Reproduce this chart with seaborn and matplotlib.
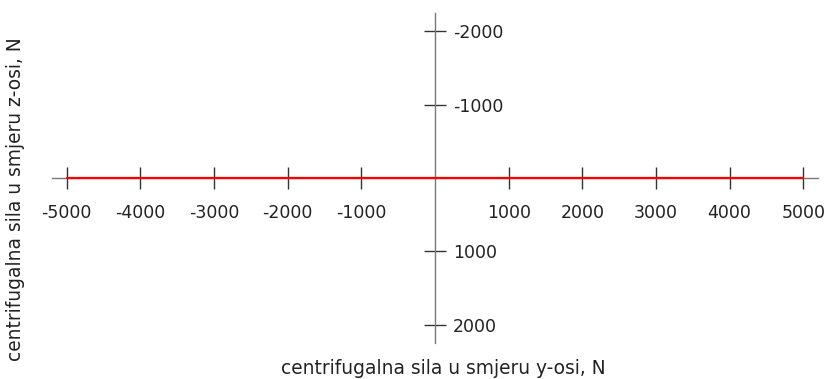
import matplotlib
matplotlib.use("Agg")
import matplotlib.pyplot as plt
import seaborn as sns
import pandas as pd

# data
line_x = [-5000, 5000]
line_y = [0, 0]
x_ticks = [-5000, -4000, -3000, -2000, -1000, 1000, 2000, 3000, 4000, 5000]
y_ticks = [-2000, -1000, 1000, 2000]
x_label = "centrifugalna sila u smjeru y-osi, N"
y_label = "centrifugalna sila u smjeru z-osi, N"

sns.set_style("white")
plt.rcParams['font.family'] = ['DejaVu Sans']

fig = plt.figure(figsize=(8.26, 3.79), dpi=100)
ax = fig.add_axes([52/826, 36/379, 766/826, 330/379])

df = pd.DataFrame({"x": line_x, "y": line_y})
sns.lineplot(data=df, x="x", y="y", ax=ax, color="#ff0000", linewidth=1.6, zorder=3)

ax.set_xlim(-5200, 5200)
ax.set_ylim(2250, -2250)

for s in ["top", "left"]:
    ax.spines[s].set_visible(False)
ax.spines["bottom"].set_position(("data", 0))
ax.spines["right"].set_position(("data", 0))
for s in ["bottom", "right"]:
    ax.spines[s].set_color("#777777")
    ax.spines[s].set_linewidth(1.0)
ax.yaxis.set_ticks_position("right")
ax.xaxis.set_ticks_position("bottom")

ax.set_xticks(x_ticks)
ax.set_xticklabels([str(v) for v in x_ticks])
ax.set_yticks(y_ticks)
ax.set_yticklabels([str(v) for v in y_ticks])
ax.tick_params(axis="both", direction="inout", length=15.8, width=1.0, color="#333333",
               labelsize=12.5, labelcolor="#222222")
ax.tick_params(axis="x", pad=10.5)
ax.tick_params(axis="y", pad=5)
ax.set_xlabel("")
ax.set_ylabel("")

fig.text(443/826, 1 - 368/379, x_label, ha="center", va="center", fontsize=13.4, color="#222222")
fig.text(16/826, 1 - 199/379, y_label, ha="center", va="center", rotation=90, fontsize=13.4, color="#222222")

fig.savefig("out.png", dpi=100)
